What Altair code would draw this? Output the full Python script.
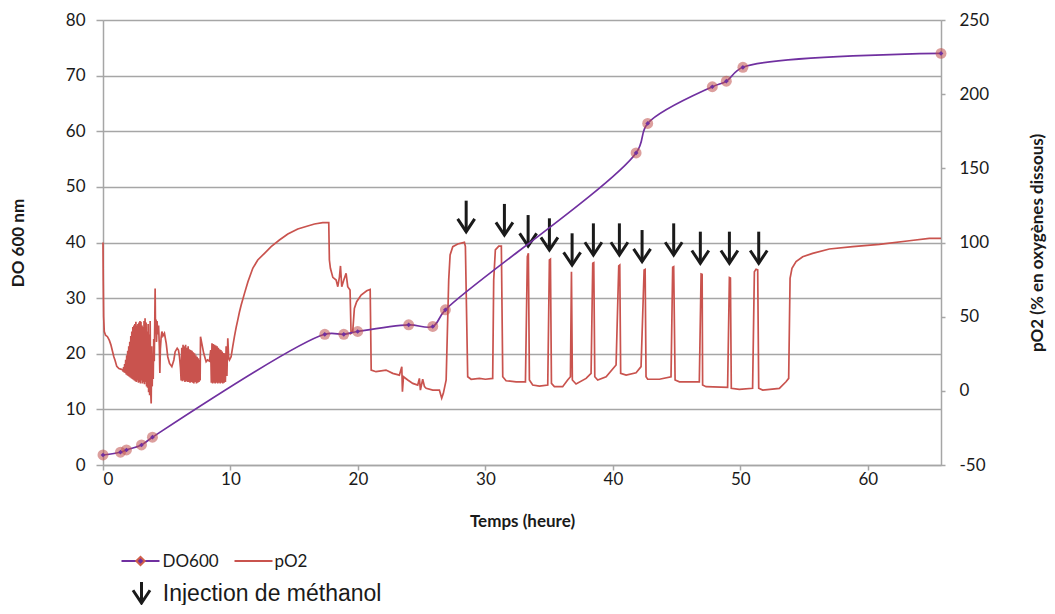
import altair as alt
import pandas as pd

# ---------------- data ----------------
do_time = [0.0, 1.37, 1.84, 3.02, 3.88, 17.4, 18.89, 19.98, 23.98, 25.87, 26.86,
           41.82, 42.73, 47.8, 48.9, 50.2, 65.74]
do_value = [1.8, 2.3, 2.7, 3.6, 5.0, 23.5, 23.5, 24.0, 25.2, 24.9, 27.9,
            56.1, 61.4, 68.0, 69.0, 71.5, 74.0]

po2_time = [
    0.00, 0.02, 0.05, 0.10, 0.20, 0.35, 0.50, 0.62, 0.72, 0.85, 0.95, 1.08, 1.25, 1.45, 1.55,
    1.58, 1.62, 1.66, 1.70, 1.74, 1.78, 1.82, 1.86, 1.90, 1.94, 1.98, 2.02, 2.06, 2.10, 2.14,
    2.18, 2.22, 2.26, 2.30, 2.34, 2.38, 2.42, 2.46, 2.50, 2.54, 2.58, 2.62, 2.66, 2.70, 2.74,
    2.78, 2.82, 2.86, 2.90, 2.94, 2.98, 3.02, 3.06, 3.10, 3.14, 3.18, 3.22, 3.26, 3.30, 3.34,
    3.38, 3.42, 3.46, 3.50, 3.54, 3.58, 3.62, 3.66, 3.70, 3.74, 3.78, 3.82, 3.86, 3.90, 3.94,
    3.98, 4.02, 4.06, 4.09, 4.12, 4.16, 4.20, 4.24, 4.30, 4.36, 4.42, 4.46, 4.50, 4.56, 4.62,
    4.70, 4.82, 4.96, 5.08, 5.22, 5.40, 5.56, 5.66, 5.82, 5.92, 6.00, 6.08,
    6.13, 6.18, 6.23, 6.28, 6.33, 6.38, 6.43, 6.48, 6.53, 6.58, 6.63, 6.68, 6.73, 6.78, 6.83,
    6.88, 6.93, 6.98, 7.03, 7.08, 7.13, 7.18, 7.23, 7.28, 7.33, 7.38, 7.43, 7.48, 7.53, 7.58,
    7.62, 7.65, 7.75, 7.90, 8.09, 8.20, 8.35, 8.45,
    8.50, 8.55, 8.60, 8.65, 8.70, 8.75, 8.80, 8.85, 8.90, 8.95, 9.00, 9.05, 9.10, 9.15, 9.20,
    9.25, 9.30, 9.35, 9.40, 9.45, 9.50, 9.55, 9.60, 9.66, 9.72, 9.79, 9.86, 9.92, 10.05, 10.18,
    10.31, 10.45, 10.57, 10.70, 10.84, 11.10, 11.37, 11.75, 12.14, 12.67, 13.19, 13.84, 14.50,
    15.28, 16.06, 16.59, 17.24, 17.71, 17.76, 17.84, 18.03, 18.29, 18.42, 18.55, 18.63, 18.73,
    18.89, 19.07, 19.20, 19.38, 19.46, 19.59, 19.72, 19.90, 20.25, 20.69, 20.96, 21.04, 21.42,
    22.20, 22.73, 23.25, 23.44, 23.49, 23.57, 23.91, 24.30, 24.69, 24.82, 24.90, 25.08, 25.22,
    25.35, 25.87, 26.39, 26.57, 26.70, 26.92, 27.12, 27.23, 27.44, 27.83, 28.35, 28.43, 28.61,
    28.88, 29.53, 30.00, 30.57, 30.65, 30.78, 31.05, 31.25, 31.36, 31.62, 32.41, 33.14, 33.29,
    33.37, 33.45, 33.71, 34.24, 34.89, 35.02, 35.10, 35.18, 35.41, 36.06, 36.45, 36.67, 36.75,
    36.82, 37.11, 37.90, 38.29, 38.42, 38.50, 38.58, 38.81, 39.47, 40.25, 40.46, 40.54, 40.61,
    41.04, 41.82, 42.21, 42.45, 42.53, 42.60, 42.73, 43.65, 44.56, 44.69, 44.77, 44.88, 45.22,
    46.78, 46.92, 47.00, 47.04, 47.31, 49.00, 49.14, 49.22, 49.29, 49.92, 50.96, 51.10, 51.23,
    51.36, 51.44, 51.75, 53.06, 53.58, 53.79, 53.90, 54.05, 54.37, 54.89, 55.67, 56.98, 58.81,
    60.90, 63.25, 64.82, 65.74,
]
po2_value = [
    100, 75, 50, 40, 37.5, 36.5, 34, 31, 27.5, 23, 20.5, 16.5, 15, 14.5, 14,
    13, 16, 12.5, 18, 12, 21, 11, 24, 10.5, 27, 10, 30, 9.5, 33, 9,
    37, 8.5, 40, 8, 43, 7.5, 44, 7, 45, 6.5, 46.5, 6, 44, 7, 45,
    5.5, 46, 6, 47, 5, 46.5, 7, 44, 5, 43, 6, 47, 4.5, 49, 6,
    46, 3, 40, 2, 45, -1, 38, -3, 47, 0, -8.5, 30, 3, 25, 8,
    35, 20, 45, 69, 40, 48, 33, 47, 38, 44, 30, 12, 28, 36, 40,
    37, 38.8, 32, 23, 18.5, 16.3, 20.8, 26.4, 28.7, 27.5, 23, 15.2,
    7, 29, 6.5, 31, 7, 30, 6, 31, 6.5, 29, 6, 30, 6, 28, 5.5,
    27.5, 6, 27, 5.5, 26, 5, 25.3, 6, 24, 5, 23, 5.5, 22, 6, 20.8,
    7, 36.5, 32, 25.3, 19.6, 20.8, 20, 27.5,
    5.5, 32, 5, 31.5, 5.5, 31, 5, 30.5, 5.5, 30, 5, 29, 5.5, 28, 5,
    27.5, 5.5, 26.5, 5, 25.5, 5.5, 25.3, 6, 30, 10, 35.4, 22, 20.8, 23, 30,
    36.5, 43, 47.7, 53, 57.9, 65.7, 73.6, 82.6, 88.2, 92.7, 97.2, 101.7, 105.7,
    109.1, 111.1, 112.5, 113.4, 113.4, 88.2, 82.6, 76.5, 74.7, 70.2, 76.9, 84.2, 70.2,
    74.7, 79.2, 70.2, 68, 38.8, 39.9, 55.6, 60.1, 64.6, 67.5, 68.4, 14, 12.9,
    14, 11.8, 10.6, 16.3, -0.6, 9.5, 7.3, 5, 3.9, 8.4, 0.5, 7.8, 2.8,
    1.7, 0.5, 0.5, -5, -1.7, 7.3, 74.7, 91.6, 97.2, 99, 100.1, 97.2, 9.5,
    7.8, 8.4, 7.8, 8.4, 74.7, 95, 97.6, 97.6, 9.5, 6.8, 6.1, 6.1, 90.4,
    92.7, 7.3, 3.9, 3.2, 3.9, 88.2, 88.7, 5, 2.8, 2.8, 7.3, 9.5, 80.3,
    7.3, 4.6, 8.4, 11.8, 86, 86.4, 9.5, 7.3, 9.5, 17.4, 84.2, 84.8, 11.8,
    10.6, 12.2, 16.3, 81.5, 81.9, 9.5, 7.8, 7.8, 9.5, 83.3, 83.7, 7.3, 6.1,
    6.1, 78.8, 78.5, 3.9, 2.8, 2.4, 76.3, 76, 1.7, 1.0, 1.7, 80.3, 81.9,
    81.5, 1.7, 0.5, 1.7, 6.1, 8.4, 75.9, 82.6, 87.1, 90.4, 92.7, 95.6, 97.2,
    98.8, 101.2, 102.8, 102.8,
]

arrow_time = [28.49, 31.49, 33.35, 35.02, 36.8, 38.47, 40.51, 42.29, 44.77, 46.86, 49.14, 51.44]
arrow_tip = [107.3, 105.0, 97.6, 94.9, 84.8, 91.6, 91.6, 87.1, 91.6, 86.0, 86.0, 86.0]
arrow_top = [128.2, 126.0, 118.5, 116.3, 106.2, 112.9, 112.9, 108.4, 112.9, 107.3, 107.3, 107.3]

x_ticks = [0, 10, 20, 30, 40, 50, 60]
left_ticks = [0, 10, 20, 30, 40, 50, 60, 70, 80]
right_ticks = [-50, 0, 50, 100, 150, 200, 250]

# ---------------- styles ----------------
PURPLE = "#7030A0"
RED = "#C9534E"
GRID = "#A6A6A6"
TXT = "#1a1a1a"
FONT = "Lato"
W, H = 838, 445

do_df = pd.DataFrame({"t": do_time, "do": do_value})
po2_df = pd.DataFrame({"t": po2_time, "po2": po2_value})
arr_df = pd.DataFrame({"t": arrow_time, "tip": arrow_tip, "top": arrow_top})

x_scale = alt.Scale(domain=[0, 65.74], nice=False, zero=False)
x_axis = alt.Axis(values=x_ticks, title="Temps (heure)", grid=False,
                  domainColor=GRID, domainWidth=1.5, tickColor=GRID, tickWidth=1.5,
                  tickSize=5, labelPadding=1, labelFont=FONT, labelFontSize=17,
                  labelColor=TXT, titleFont=FONT, titleFontSize=17, titleFontWeight="bold",
                  titleColor=TXT, titleX=W / 2, titleY=56, titleBaseline="middle",
                  titleAlign="center")

right_scale = alt.Scale(domain=[-50, 250], nice=False, zero=False)
right_axis = alt.Axis(orient="right", values=right_ticks, grid=False,
                      labelExpr="'' + datum.value",
                      title="pO2 (% en oxygènes dissous)",
                      domainColor=GRID, domainWidth=1.5, tickColor=GRID, tickWidth=1.5,
                      tickSize=4, labelPadding=14, labelFont=FONT, labelFontSize=17,
                      labelColor=TXT, titleFont=FONT, titleFontSize=17,
                      titleFontWeight="bold", titleColor=TXT, titleAngle=270,
                      titleX=96, titleY=H / 2, titleAlign="center",
                      titleBaseline="middle")

left_scale = alt.Scale(domain=[0, 80], nice=False, zero=True)
left_axis = alt.Axis(orient="left", values=left_ticks, grid=True, gridColor=GRID,
                     gridWidth=1.5, title="DO 600 nm",
                     domainColor=GRID, domainWidth=1.5, tickColor=GRID, tickWidth=1.5,
                     tickSize=7, labelPadding=11, labelFont=FONT, labelFontSize=17,
                     labelColor=TXT, titleFont=FONT, titleFontSize=17,
                     titleFontWeight="bold", titleColor=TXT, titleAngle=270,
                     titleX=-85, titleY=H / 2, titleAlign="center",
                     titleBaseline="middle")

X = alt.X("t:Q", scale=x_scale, axis=x_axis)

# pO2 layer (right axis) with arrows
po2_line = alt.Chart(po2_df).mark_line(color=RED, strokeWidth=1.7).encode(
    x=X, y=alt.Y("po2:Q", scale=right_scale, axis=right_axis))
arrow_shaft = alt.Chart(arr_df).mark_rule(color=TXT, strokeWidth=3).encode(
    x=X, y=alt.Y("top:Q", scale=right_scale, axis=right_axis), y2="tip:Q")
arrow_head = alt.Chart(arr_df).mark_point(
    shape="M-1,-1.5L0,0L1,-1.5", size=289, filled=False, stroke=TXT,
    strokeWidth=3, opacity=1).encode(
    x=X, y=alt.Y("tip:Q", scale=right_scale, axis=right_axis))
po2_layer = alt.layer(po2_line, arrow_shaft, arrow_head)

# DO600 layer (left axis)
do_line = alt.Chart(do_df).mark_line(color=PURPLE, strokeWidth=1.7,
                                     interpolate="catmull-rom").encode(
    x=X, y=alt.Y("do:Q", scale=left_scale, axis=left_axis))
do_halo = alt.Chart(do_df).mark_circle(size=120, color="#C0504D", opacity=0.55).encode(
    x=X, y=alt.Y("do:Q", scale=left_scale, axis=left_axis))
do_diamond = alt.Chart(do_df).mark_point(shape="diamond", filled=True, size=22,
                                         color=PURPLE, opacity=1).encode(
    x=X, y=alt.Y("do:Q", scale=left_scale, axis=left_axis))
do_layer = alt.layer(do_line, do_halo, do_diamond)

# manual legend below the plot
one = alt.Data(values=[{"k": 1}])
leg = [
    alt.Chart(one).mark_rule(color=PURPLE, strokeWidth=2).encode(
        x=alt.value(18.5), x2=alt.value(56.5), y=alt.value(541)),
    alt.Chart(one).mark_point(shape="diamond", filled=True, fill=PURPLE, stroke="#D0604A",
                              strokeWidth=2, size=70, opacity=1).encode(
        x=alt.value(37.5), y=alt.value(541)),
    alt.Chart(one).mark_text(text="DO600", align="left", baseline="alphabetic", font=FONT,
                             fontSize=17, color=TXT).encode(
        x=alt.value(59.5), y=alt.value(547.3)),
    alt.Chart(one).mark_rule(color=RED, strokeWidth=2).encode(
        x=alt.value(131.5), x2=alt.value(169.5), y=alt.value(541)),
    alt.Chart(one).mark_text(text="pO2", align="left", baseline="alphabetic", font=FONT,
                             fontSize=17, color=TXT).encode(
        x=alt.value(171.5), y=alt.value(547.3)),
    alt.Chart(one).mark_rule(color=TXT, strokeWidth=3).encode(
        x=alt.value(38.5), y=alt.value(562), y2=alt.value(583)),
    alt.Chart(one).mark_point(shape="M-1,-1.5L0,0L1,-1.5", size=289, filled=False,
                              stroke=TXT, strokeWidth=3, opacity=1).encode(
        x=alt.value(38.5), y=alt.value(583)),
    alt.Chart(one).mark_text(text="Injection de méthanol", align="left",
                             baseline="alphabetic", font="Liberation Sans", fontSize=23,
                             color=TXT).encode(
        x=alt.value(59.8), y=alt.value(580.5)),
]

chart = alt.layer(po2_layer, do_layer, *leg).resolve_scale(y="independent").properties(
    width=W, height=H,
    autosize=alt.AutoSizeParams(type="none"),
    padding={"left": 95, "top": 12, "right": 106, "bottom": 140},
).configure_view(stroke=None).configure(background="white")

chart.save("out.html", embed_options={"renderer": "svg", "actions": False})
